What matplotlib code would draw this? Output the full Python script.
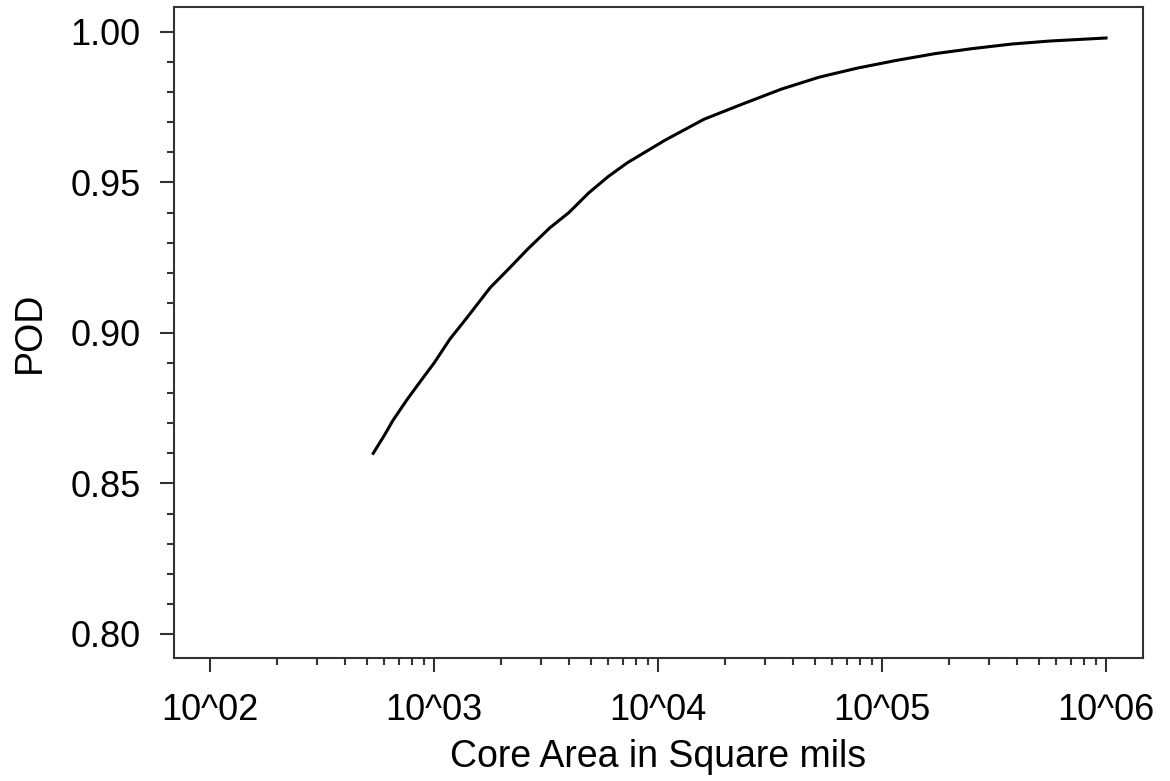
import matplotlib
matplotlib.use("Agg")
import matplotlib.pyplot as plt
from matplotlib.ticker import FixedLocator, NullFormatter

# Data
core_area = [535, 600, 656, 760, 891, 1000, 1178, 1400, 1778, 2200, 2630,
             3296, 4000, 4898, 6000, 7278, 10715, 16032, 23714, 35481, 52481,
             77625, 114815, 172187, 254683, 380189, 562341, 1000000]
pod = [0.860, 0.866, 0.871, 0.878, 0.885, 0.890, 0.898, 0.905, 0.915, 0.922,
       0.928, 0.935, 0.940, 0.9465, 0.952, 0.9565, 0.964, 0.971, 0.976, 0.981,
       0.985, 0.988, 0.9905, 0.9928, 0.9945, 0.996, 0.997, 0.998]

x_ticks = [1e2, 1e3, 1e4, 1e5, 1e6]
x_tick_labels = ["10^02", "10^03", "10^04", "10^05", "10^06"]
y_ticks = [0.80, 0.85, 0.90, 0.95, 1.00]
y_tick_labels = ["0.80", "0.85", "0.90", "0.95", "1.00"]

plt.rcParams['font.family'] = ['Liberation Sans', 'DejaVu Sans']

fig = plt.figure(figsize=(11.7, 7.81), dpi=100)
ax = fig.add_axes([174 / 1170, 1 - 658 / 781, (1143 - 174) / 1170, (658 - 7) / 781])

ax.plot(core_area, pod, color='black', linewidth=2.2)

ax.set_xscale('log')
ax.set_xlim(10 ** 1.839, 10 ** 6.165)
ax.set_ylim(0.792, 1.0083)

ax.xaxis.set_major_locator(FixedLocator(x_ticks))
ax.set_xticklabels(x_tick_labels)
minor_x = [m * 10 ** d for d in range(2, 6) for m in range(2, 10)]
ax.xaxis.set_minor_locator(FixedLocator(minor_x))
ax.xaxis.set_minor_formatter(NullFormatter())

ax.yaxis.set_major_locator(FixedLocator(y_ticks))
ax.set_yticklabels(y_tick_labels)
minor_y = [0.80 + 0.01 * i for i in range(21)]
ax.yaxis.set_minor_locator(FixedLocator(minor_y))
ax.yaxis.set_minor_formatter(NullFormatter())

for s in ax.spines.values():
    s.set_color('#333333')
    s.set_linewidth(1.5)

ax.tick_params(which='major', length=10, width=1.5, color='#333333', labelsize=26)
ax.tick_params(which='minor', length=5, width=1.5, color='#333333')
ax.tick_params(axis='x', which='major', pad=15)
ax.tick_params(axis='y', which='major', pad=14)

ax.set_xlabel('Core Area in Square mils', fontsize=27, labelpad=8)
ax.set_ylabel('POD', fontsize=27, labelpad=16)

fig.savefig('out.png', dpi=100)
